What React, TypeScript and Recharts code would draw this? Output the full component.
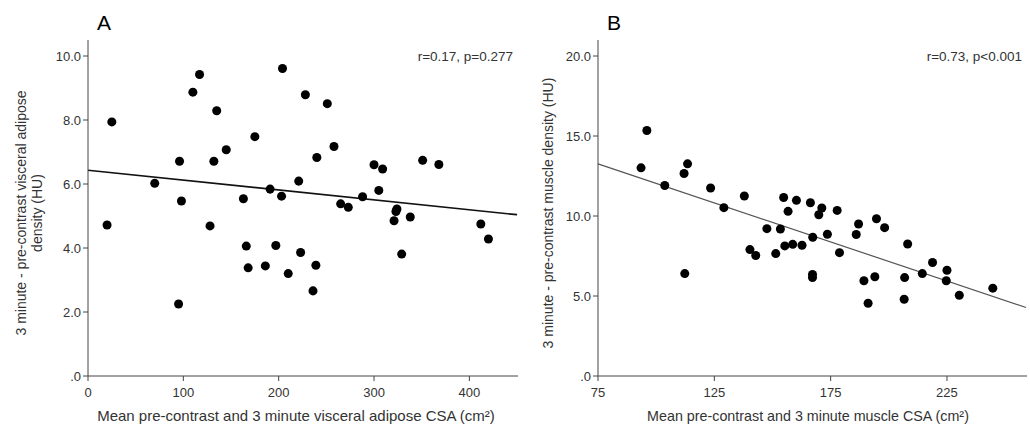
import {
  ScatterChart,
  Scatter,
  XAxis,
  YAxis,
  ZAxis,
  ReferenceLine,
  Label,
} from "recharts";

// Panel A: visceral adipose
const adiposeCsa = [
  20, 25, 70, 96, 98, 95, 110, 117, 135, 132, 128, 145, 175, 163, 166, 168,
  186, 191, 197, 204, 203, 210, 221, 223, 228, 236, 239, 240, 251, 258, 265,
  273, 288, 300, 309, 305, 321, 323, 324, 338, 329, 351, 368, 412, 420,
];
const adiposeDensity = [
  4.72, 7.94, 6.02, 6.71, 5.47, 2.25, 8.87, 9.42, 8.29, 6.71, 4.69, 7.07, 7.48,
  5.54, 4.06, 3.38, 3.44, 5.84, 4.08, 9.61, 5.62, 3.2, 6.09, 3.86, 8.79, 2.66,
  3.46, 6.83, 8.51, 7.17, 5.38, 5.27, 5.6, 6.6, 6.47, 5.8, 4.85, 5.14, 5.22,
  4.97, 3.81, 6.74, 6.61, 4.75, 4.28,
];
const adiposeFit = [
  { x: 0, y: 6.43 },
  { x: 450, y: 5.04 },
];
const adiposeXTicks = [0, 100, 200, 300, 400];
const adiposeYTicks = [0, 2, 4, 6, 8, 10];

// Panel B: muscle
const muscleCsa = [
  93.5, 96, 103.7, 112, 113.5, 112.3, 123.4, 129.1, 137.9, 140.3, 142.8, 147.6,
  151.4, 153.4, 154.8, 155.3, 156.7, 158.7, 160.3, 162.7, 166.3, 167.3, 167.2,
  167.2, 169.9, 171.2, 173.6, 177.8, 178.8, 186, 187, 189.3, 191.1, 194, 194.7,
  198.2, 206.8, 206.6, 208.1, 214.4, 218.8, 224.7, 225, 230.3, 244.7,
];
const muscleDensity = [
  13.01, 15.34, 11.91, 12.66, 13.26, 6.4, 11.75, 10.52, 11.25, 7.9, 7.53, 9.21,
  7.65, 9.19, 11.16, 8.13, 10.29, 8.23, 10.98, 8.17, 10.83, 8.67, 6.34, 6.15,
  10.08, 10.5, 8.86, 10.35, 7.71, 8.84, 9.5, 5.95, 4.55, 6.2, 9.83, 9.27, 6.15,
  4.8, 8.25, 6.4, 7.09, 5.95, 6.61, 5.05, 5.49,
];
const muscleFit = [
  { x: 75, y: 13.26 },
  { x: 259, y: 4.28 },
];
const muscleXTicks = [75, 125, 175, 225];
const muscleYTicks = [0, 5, 10, 15, 20];

const zip = (xs: number[], ys: number[]) =>
  xs.map((x, i) => ({ x, y: ys[i] }));

const FONT = "'Liberation Sans', Arial, sans-serif";
const TEXT = "#333";
const AXIS = "#444";

const fmtY = (v: number) => (v === 0 ? ".0" : v.toFixed(1));

const tickStyle = { fontSize: 13, fill: TEXT, fontFamily: FONT };

interface PanelProps {
  left: number;
  width: number;
  letter: string;
  stat: string;
  data: { x: number; y: number }[];
  fit: { x: number; y: number }[];
  xDomain: [number, number];
  yDomain: [number, number];
  xTicks: number[];
  yTicks: number[];
  xLabel: string;
  xLabelCenter: number;
  xLabelSize: number;
  yLabel: string[];
  yLabelX: number;
  plotLeft: number;
  plotRight: number;
  fitColor: string;
  fitWidth: number;
}

function Panel(p: PanelProps) {
  const yAxisWidth = 60;
  return (
    <div style={{ position: "absolute", left: p.left, top: 0 }}>
      <ScatterChart
        width={p.width}
        height={435}
        margin={{
          top: 40,
          right: p.width - p.plotRight,
          bottom: 29,
          left: p.plotLeft - yAxisWidth,
        }}
      >
        <XAxis
          type="number"
          dataKey="x"
          domain={p.xDomain}
          ticks={p.xTicks}
          allowDataOverflow
          height={30}
          tick={tickStyle}
          tickSize={5}
          tickMargin={7}
          stroke={AXIS}
        >
          <Label
            content={() => (
              <text
                x={p.xLabelCenter}
                y={421}
                textAnchor="middle"
                fontSize={p.xLabelSize}
                fill={TEXT}
                fontFamily={FONT}
              >
                {p.xLabel}
              </text>
            )}
          />
        </XAxis>
        <YAxis
          type="number"
          dataKey="y"
          domain={p.yDomain}
          ticks={p.yTicks}
          allowDataOverflow
          width={yAxisWidth}
          tick={tickStyle}
          tickSize={5}
          tickFormatter={fmtY}
          stroke={AXIS}
        >
          <Label
            content={() => (
              <g>
                {p.yLabel.map((line, i) => (
                  <text
                    key={line}
                    x={p.yLabelX + i * 16}
                    y={213}
                    transform={`rotate(-90 ${p.yLabelX + i * 16} 213)`}
                    textAnchor="middle"
                    fontSize={14}
                    fill={TEXT}
                    fontFamily={FONT}
                  >
                    {line}
                  </text>
                ))}
                <text
                  x={p.plotLeft + 9}
                  y={30}
                  fontSize={21}
                  fill="#000"
                  fontFamily={FONT}
                >
                  {p.letter}
                </text>
                <text
                  x={p.plotRight - 5}
                  y={61}
                  textAnchor="end"
                  fontSize={13.5}
                  fill={TEXT}
                  fontFamily={FONT}
                >
                  {p.stat}
                </text>
              </g>
            )}
          />
        </YAxis>
        <ZAxis range={[72, 72]} />
        <ReferenceLine
          segment={p.fit}
          stroke={p.fitColor}
          strokeWidth={p.fitWidth}
          ifOverflow="visible"
        />
        <Scatter
          data={p.data}
          fill="#000"
          shape="circle"
          isAnimationActive={false}
        />
      </ScatterChart>
    </div>
  );
}

export default function App() {
  return (
    <div
      style={{
        position: "absolute",
        left: 0,
        top: 0,
        width: 1030,
        height: 435,
        background: "#fff",
      }}
    >
      <Panel
        left={0}
        width={520}
        letter="A"
        stat="r=0.17, p=0.277"
        data={zip(adiposeCsa, adiposeDensity)}
        fit={adiposeFit}
        xDomain={[0, 451]}
        yDomain={[0, 10.5]}
        xTicks={adiposeXTicks}
        yTicks={adiposeYTicks}
        xLabel="Mean pre-contrast and 3 minute visceral adipose CSA (cm²)"
        xLabelCenter={296}
        xLabelSize={15}
        yLabel={["3 minute - pre-contrast visceral adipose", "density (HU)"]}
        yLabelX={26}
        plotLeft={88}
        plotRight={518}
        fitColor="#111"
        fitWidth={1.7}
      />
      <Panel
        left={520}
        width={510}
        letter="B"
        stat="r=0.73, p<0.001"
        data={zip(muscleCsa, muscleDensity)}
        fit={muscleFit}
        xDomain={[75, 259.4]}
        yDomain={[0, 21]}
        xTicks={muscleXTicks}
        yTicks={muscleYTicks}
        xLabel="Mean pre-contrast and 3 minute muscle CSA (cm²)"
        xLabelCenter={288}
        xLabelSize={14.3}
        yLabel={["3 minute - pre-contrast muscle density (HU)"]}
        yLabelX={33}
        plotLeft={78}
        plotRight={507}
        fitColor="#555"
        fitWidth={1.2}
      />
    </div>
  );
}
